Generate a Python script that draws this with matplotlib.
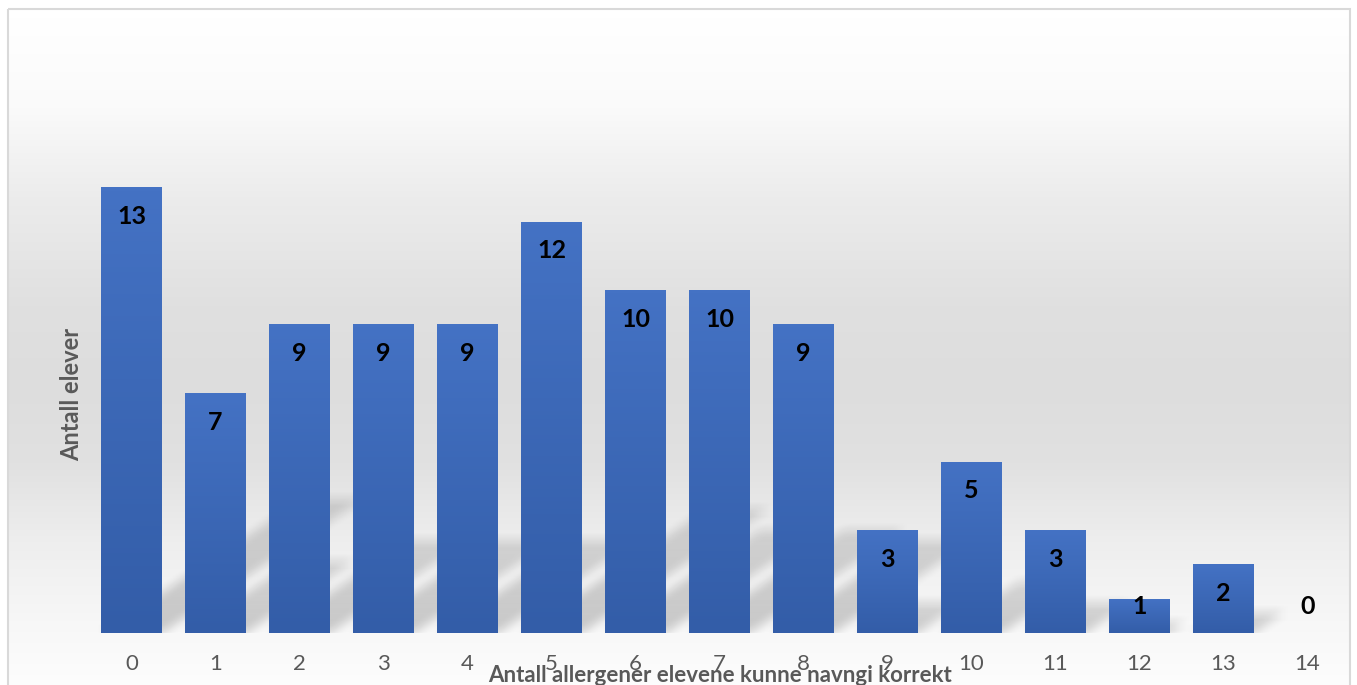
import numpy as np
import matplotlib
matplotlib.use("Agg")
import matplotlib.pyplot as plt
from matplotlib.patches import Rectangle

plt.rcParams['font.family'] = ['Lato', 'DejaVu Sans']

# data
categories = ["0", "1", "2", "3", "4", "5", "6", "7", "8", "9", "10", "11", "12", "13", "14"]
antall_elever = [13, 7, 9, 9, 9, 12, 10, 10, 9, 3, 5, 3, 1, 2, 0]
x_label = "Antall allergener elevene kunne navngi korrekt"
y_label = "Antall elever"

W, H = 1357, 685
fig = plt.figure(figsize=(W / 100, H / 100), dpi=100)

# chart background (vertical grey gradient inside a light border)
bg = fig.add_axes([0, 0, 1, 1], zorder=-2)
bg.set_xlim(0, W)
bg.set_ylim(H, 0)
bg.axis("off")
yy = np.arange(H)
stops_y = [9, 100, 190, 300, 380, 460, 540, 620, 685]
stops_c = [255, 250, 236, 224, 221, 225, 238, 247, 253]
col = np.interp(yy, stops_y, stops_c) / 255
grad = np.repeat(col[:, None, None], 3, axis=2)
bg.imshow(grad, extent=[8, 1350, H, 9], aspect="auto", interpolation="bilinear")
bg.add_patch(Rectangle((8, 9), 1342, 700, fill=False, edgecolor="#d9d9d9", lw=1.5))

# plot area
x0_px, x1_px, base_px, top_px = 89.5, 1349.5, 633, 153
ax = fig.add_axes([x0_px / W, (H - base_px) / H, (x1_px - x0_px) / W, (base_px - top_px) / H])
ax.patch.set_alpha(0)
ax.set_xlim(-0.5, 14.5)
ax.set_ylim(0, 14)
for s in ax.spines.values():
    s.set_visible(False)
ax.set_yticks([])
x = np.arange(len(categories))
ax.set_xticks(x)
ax.set_xticklabels(categories, fontsize=16, color="#595959")
ax.tick_params(axis="x", length=0, pad=15)

bar_w = 0.726

# soft perspective shadows behind the bars
nx, ny = 1260, 480
gx = np.linspace(-0.5, 14.5, nx)
gy = np.linspace(0, 14, ny)
GX, GY = np.meshgrid(gx, gy)
mask = np.zeros_like(GX)
for xi, v in zip(x, antall_elever):
    if v == 0:
        continue
    t = 0.3 * v
    sh = 0.184 * v
    frac = GY / t
    left = xi - bar_w / 2 + sh * frac
    inside = (GY <= t) & (GX >= left) & (GX <= left + bar_w)
    mask = np.maximum(mask, inside * (1 - 0.35 * np.clip(frac, 0, 1)))
k = np.ones(15) / 15
mask = np.apply_along_axis(lambda r: np.convolve(r, k, mode="same"), 1, mask)
mask = np.apply_along_axis(lambda c: np.convolve(c, k, mode="same"), 0, mask)
shadow = np.zeros((ny, nx, 4))
shadow[..., 3] = mask * 0.19
ax.imshow(shadow, extent=[-0.5, 14.5, 0, 14], origin="lower", aspect="auto", zorder=1)

# bars with vertical gradient
bars = ax.bar(x, antall_elever, width=bar_w, color="#4472c4", zorder=2)
top_c = np.array([68, 114, 196]) / 255
bot_c = np.array([51, 93, 168]) / 255
g = np.linspace(0, 1, 100)[:, None]
bar_grad = (top_c[None, :] * (1 - g) + bot_c[None, :] * g)[:, None, :]
for b in bars:
    if b.get_height() <= 0:
        continue
    im = ax.imshow(bar_grad, extent=[b.get_x(), b.get_x() + b.get_width(), 0, b.get_height()],
                   aspect="auto", zorder=3)
    im.set_clip_path(b)

# data labels
for xi, v in zip(x, antall_elever):
    ax.text(xi, max(v - 0.85, 0.76), str(v), ha="center", va="center",
            fontsize=18, fontweight="bold", color="black", zorder=4)

fig.text(72 / W, 1 - 394 / H, y_label, rotation=90, ha="center", va="center",
         fontsize=17, fontweight="bold", color="#595959")
fig.text(720 / W, 1 - 676 / H, x_label, ha="center", va="center",
         fontsize=16, fontweight="bold", color="#595959")

fig.savefig("out.png", dpi=100)
